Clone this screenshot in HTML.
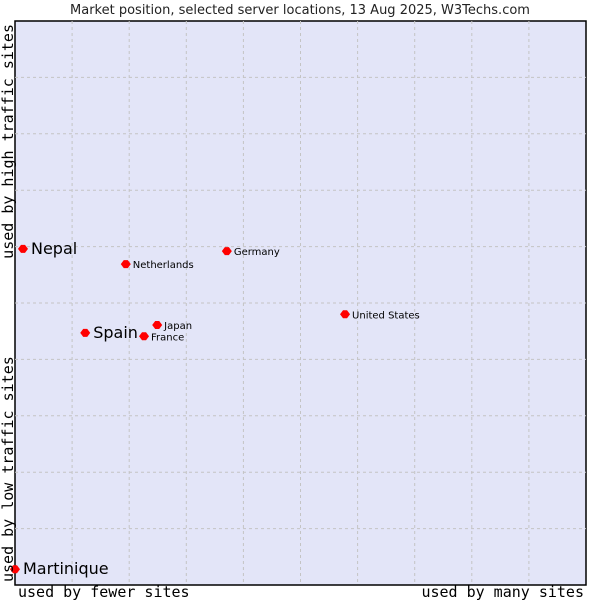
<!DOCTYPE html>
<html><head><meta charset="utf-8"><style>
body{margin:0;background:#fff;}
svg{display:block;}
</style></head><body>
<svg id="chart" width="600" height="600" xmlns="http://www.w3.org/2000/svg">
<rect width="600" height="600" fill="#fff"/>
<text x="300" y="14" text-anchor="middle" font-family="DejaVu Sans, sans-serif" font-size="13" fill="#222">Market position, selected server locations, 13 Aug 2025, W3Techs.com</text>
<rect x="15" y="21" width="571" height="564" fill="#e3e5f8" stroke="#000" stroke-width="1.5"/>
<g id="grid"></g>
<g id="points"></g>
<text x="18" y="597" font-family="DejaVu Sans Mono, Liberation Mono, monospace" font-size="15" fill="#000">used by fewer sites</text>
<text x="584" y="597" text-anchor="end" font-family="DejaVu Sans Mono, Liberation Mono, monospace" font-size="15" fill="#000">used by many sites</text>
<text transform="translate(13,582) rotate(-90)" font-family="DejaVu Sans Mono, Liberation Mono, monospace" font-size="15" fill="#000">used by low traffic sites</text>
<text transform="translate(13,24) rotate(-90)" text-anchor="end" font-family="DejaVu Sans Mono, Liberation Mono, monospace" font-size="15" fill="#000">used by high traffic sites</text>
</svg>
<script>
const names = ["Nepal","Netherlands","Germany","United States","Spain","Japan","France","Martinique"];
const xVals = [1.4,19.4,37.1,57.8,12.3,24.9,22.6,0];
const yVals = [59.6,56.9,59.2,48.0,44.7,46.1,44.1,2.8];
const bigLabel = [true,false,false,false,true,false,false,true];
const gridTicks = [10,20,30,40,50,60,70,80,90];
const X0=15,X1=586,Y0=585,Y1=21;
const sx=v=>X0+v/100*(X1-X0);
const sy=v=>Y0-v/100*(Y0-Y1);
const NS="http://www.w3.org/2000/svg";
const grid=document.getElementById('grid');
gridTicks.forEach(t=>{
  const v=document.createElementNS(NS,'line');
  v.setAttribute('x1',sx(t));v.setAttribute('x2',sx(t));v.setAttribute('y1',Y1);v.setAttribute('y2',Y0);
  v.setAttribute('stroke','#c4c4c4');v.setAttribute('stroke-dasharray','3,3');
  
  
  grid.appendChild(v);
  const h=document.createElementNS(NS,'line');
  h.setAttribute('y1',sy(t));h.setAttribute('y2',sy(t));h.setAttribute('x1',X0);h.setAttribute('x2',X1);
  h.setAttribute('stroke','#c4c4c4');h.setAttribute('stroke-dasharray','3,3');
  
  
  grid.appendChild(h);
});
const pts=document.getElementById('points');
names.forEach((n,i)=>{
  const x=sx(xVals[i]),y=sy(yVals[i]);
  const d=document.createElementNS(NS,'polygon');
  d.setAttribute('points',`${x-5},${y} ${x-2},${y-4} ${x+2},${y-4} ${x+5},${y} ${x+2},${y+4} ${x-2},${y+4}`);
  d.setAttribute('fill','#f00');
  
  
  pts.appendChild(d);
  const t=document.createElementNS(NS,'text');
  t.setAttribute('x',x+(bigLabel[i]?8:7));
  t.setAttribute('y',y+(bigLabel[i]?5:4));
  t.setAttribute('font-family','DejaVu Sans, sans-serif');
  t.setAttribute('font-size',bigLabel[i]?16:10);
  t.setAttribute('fill','#000');
  t.textContent=n;
  
  
  pts.appendChild(t);
});
</script>
</body></html>
